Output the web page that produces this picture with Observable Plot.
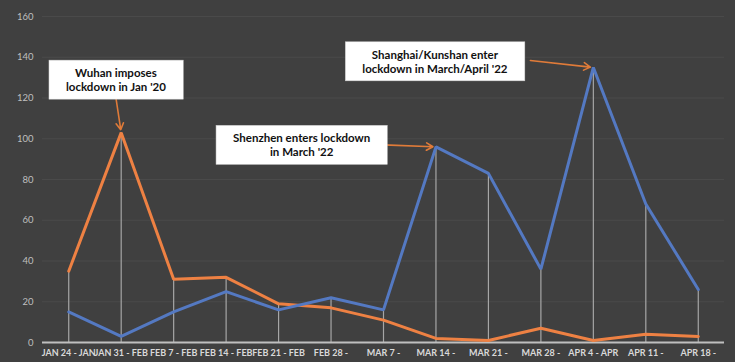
<!DOCTYPE html>
<html>
<head>
<meta charset="utf-8">
<script src="https://cdn.jsdelivr.net/npm/d3@7"></script>
<script src="https://cdn.jsdelivr.net/npm/@observablehq/plot@0.6"></script>
<style>
  html, body { margin: 0; padding: 0; background: #ffffff; }
  #chart svg { display: block; }
</style>
</head>
<body>
<div id="chart"></div>
<script>
// ---- data ----
const categories = [
  "JAN 24 - JAN", "JAN 31 - FEB", "FEB 7 - FEB", "FEB 14 - FEB", "FEB 21 - FEB",
  "FEB 28 -", "MAR 7 -", "MAR 14 -", "MAR 21 -", "MAR 28 -",
  "APR 4 - APR", "APR 11 -", "APR 18 -"
];
const series2020 = [35, 103, 31, 32, 19, 17, 11, 2, 1, 7, 1, 4, 3];
const series2022 = [15, 3, 15, 25, 16, 22, 16, 96, 83, 36, 135, 68, 26];
const yTicks = [0, 20, 40, 60, 80, 100, 120, 140, 160];

const annoText = [
  "Wuhan imposes\nlockdown in Jan '20",
  "Shenzhen enters lockdown\nin March '22",
  "Shanghai/Kunshan enter\nlockdown in March/April '22"
];
const annoX = [0.9, 4.44, 6.98];
const annoY = [129, 97, 138];
const arrowX1 = [0.9, 6.0, 8.8];
const arrowY1 = [120, 97, 138.4];
const arrowX2 = [1, 7, 10];
const arrowY2 = [103, 96, 135];

// ---- tables built from the arrays ----
const idx = d3.range(categories.length);
const rows = [
  ...idx.map(i => ({i, value: series2020[i], series: "2020"})),
  ...idx.map(i => ({i, value: series2022[i], series: "2022"}))
];
const drops = idx.map(i => ({i, top: Math.max(series2020[i], series2022[i])}));
const annos = annoText.map((t, k) => ({t, x: annoX[k], y: annoY[k]}));
const arrows = annoText.map((t, k) => ({x1: arrowX1[k], y1: arrowY1[k], x2: arrowX2[k], y2: arrowY2[k]}));

const plot = Plot.plot({
  width: 752,
  height: 362,
  marginLeft: 42,
  marginRight: 28,
  marginTop: 16,
  marginBottom: 20,
  style: {
    background: "linear-gradient(to right, #404040 0px, #404040 735px, #ffffff 735px)",
    fontFamily: "Lato, 'Open Sans', sans-serif",
    overflow: "visible"
  },
  x: {domain: [-0.5, categories.length - 0.5], axis: null},
  y: {domain: [0, 160], axis: null},
  color: {domain: ["2020", "2022"], range: ["#ee8143", "#5479c2"]},
  marks: [
    Plot.gridY(yTicks, {stroke: "#4a4a4a", strokeOpacity: 1, strokeWidth: 1}),
    Plot.axisY({ticks: yTicks, tickSize: 0, tickPadding: 9, fontSize: 9.5, fill: "#bfbfbf", label: null}),
    Plot.axisX({ticks: idx, tickFormat: i => categories[i], tickSize: 0, tickPadding: 7,
      fontSize: 9, fontWeight: "bold", fill: "#d9d9d9", label: null}),
    Plot.ruleX(drops, {x: "i", y1: 0, y2: "top", stroke: "#a6a6a6", strokeWidth: 1.2}),
    Plot.ruleY([0], {stroke: "#bfbfbf", strokeWidth: 2}),
    Plot.line(rows, {x: "i", y: "value", z: "series", stroke: "series", strokeWidth: 3, strokeLinejoin: "miter"}),
    Plot.arrow(arrows, {x1: "x1", y1: "y1", x2: "x2", y2: "y2", stroke: "#e07b39", strokeWidth: 1.6,
      headLength: 7, insetEnd: 3}),
    Plot.text(annos, {x: "x", y: "y", text: "t", fontSize: 11.5, fontWeight: "bold", fill: "#111111",
      lineHeight: 1.22, textAnchor: "middle"})
  ]
});

document.getElementById("chart").appendChild(plot);

// white boxes behind annotation texts
d3.select(plot).selectAll("g[aria-label='text'] text").each(function() {
  const b = this.getBBox();
  const padX = 17, padY = 6;
  const r = d3.select(this.parentNode).insert("rect", () => this)
    .attr("x", b.x - padX).attr("y", b.y - padY)
    .attr("width", b.width + 2 * padX).attr("height", b.height + 2 * padY)
    .attr("fill", "#ffffff").attr("stroke", "#d0d0d0").attr("stroke-width", 0.5);
  const tr = this.getAttribute("transform");
  if (tr) r.attr("transform", tr);
});
</script>
</body>
</html>
